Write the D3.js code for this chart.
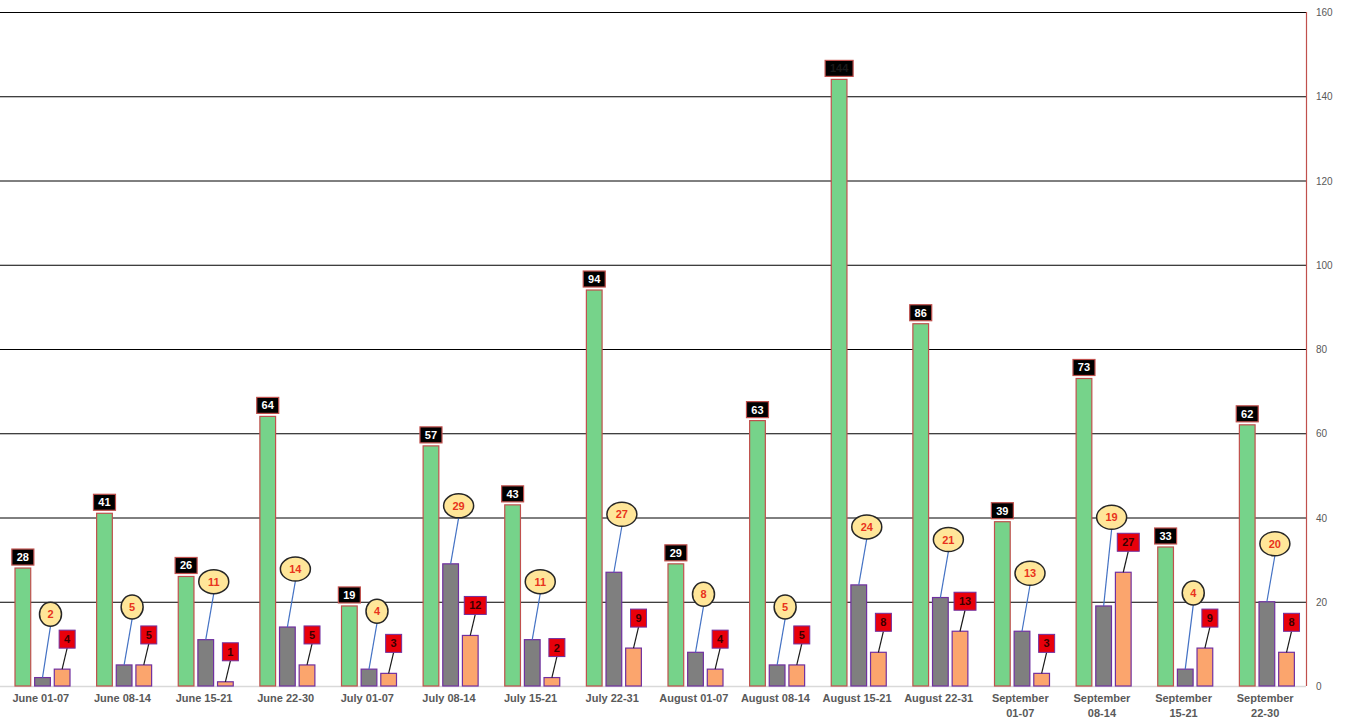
<!DOCTYPE html>
<html>
<head>
<meta charset="utf-8">
<script src="https://cdn.jsdelivr.net/npm/d3@7"></script>
<style>
  body { margin: 0; background: #fff; }
  text { font-family: "Liberation Sans", Arial, sans-serif; }
</style>
</head>
<body>
<script>
// Weekly periods, June to September
const periods = [
  "June 01-07", "June 08-14", "June 15-21", "June 22-30",
  "July 01-07", "July 08-14", "July 15-21", "July 22-31",
  "August 01-07", "August 08-14", "August 15-21", "August 22-31",
  "September 01-07", "September 08-14", "September 15-21", "September 22-30"
];
const greenValues = [28, 41, 26, 64, 19, 57, 43, 94, 29, 63, 144, 86, 39, 73, 33, 62];
const grayValues = [2, 5, 11, 14, 4, 29, 11, 27, 8, 5, 24, 21, 13, 19, 4, 20];
const orangeValues = [4, 5, 1, 5, 3, 12, 2, 9, 4, 5, 8, 13, 3, 27, 9, 8];
const yTicks = [0, 20, 40, 60, 80, 100, 120, 140, 160];

const width = 1348;
const height = 722;
const margin = { top: 12, right: 42, bottom: 36, left: 0 };

const svg = d3.select("body")
  .append("svg")
  .attr("width", width)
  .attr("height", height);

const x = d3.scaleBand()
  .domain(periods)
  .range([margin.left, width - margin.right])
  .padding(0);

// bars inside each group
const xSub = d3.scaleBand()
  .domain([0, 1, 2])
  .range([15, 70])
  .paddingInner(0.2);

const y = d3.scaleLinear()
  .domain([0, 160])
  .range([height - margin.bottom, margin.top]);

// gridlines
svg.append("g")
  .selectAll("line")
  .data(yTicks)
  .join("line")
  .attr("x1", margin.left)
  .attr("x2", width - margin.right)
  .attr("y1", d => y(d) + 0.5)
  .attr("y2", d => y(d) + 0.5)
  .attr("stroke", d => d === 0 ? "#d9d9d9" : "#000")
  .attr("stroke-width", d => d === 0 ? 1.5 : 1);

// right axis
const axisX = width - margin.right;
svg.append("line")
  .attr("x1", axisX + 0.5).attr("x2", axisX + 0.5)
  .attr("y1", y(160)).attr("y2", y(0))
  .attr("stroke", "#c0504d")
  .attr("stroke-width", 1.2);

svg.append("g")
  .selectAll("text")
  .data(yTicks)
  .join("text")
  .attr("x", axisX + 10)
  .attr("y", d => y(d) + 4)
  .attr("font-size", 10)
  .attr("fill", "#595959")
  .text(d => d);

const series = [
  { values: greenValues, fill: "#76d38a", stroke: "#c0504d" },
  { values: grayValues, fill: "#7f7f7f", stroke: "#7030a0" },
  { values: orangeValues, fill: "#fba56d", stroke: "#7030a0" }
];

series.forEach((s, si) => {
  svg.append("g")
    .selectAll("rect")
    .data(s.values)
    .join("rect")
    .attr("x", (d, i) => x(periods[i]) + xSub(si))
    .attr("y", d => y(d))
    .attr("width", xSub.bandwidth())
    .attr("height", d => y(0) - y(d))
    .attr("fill", s.fill)
    .attr("stroke", s.stroke)
    .attr("stroke-width", 1.2);
});

const barCenter = (i, si) => x(periods[i]) + xSub(si) + xSub.bandwidth() / 2;

// green labels: black boxes above bars
const gLab = svg.append("g")
  .selectAll("g")
  .data(greenValues)
  .join("g")
  .attr("transform", (d, i) => `translate(${barCenter(i, 0)},${y(d) - 11})`);
gLab.append("rect")
  .attr("x", d => d >= 100 ? -14 : -11)
  .attr("y", -8)
  .attr("width", d => d >= 100 ? 28 : 22)
  .attr("height", 16)
  .attr("fill", "#000")
  .attr("stroke", "#c0504d")
  .attr("stroke-width", 1.2);
gLab.append("text")
  .attr("text-anchor", "middle")
  .attr("y", 4)
  .attr("font-size", 11)
  .attr("font-weight", "bold")
  .attr("fill", d => d >= 100 ? "#1a1a1a" : "#fff")
  .text(d => d);

// label anchor points (orange boxes first, gray ellipses kept clear of them)
const orDx = 5, orDy = -30;
const grayDx = 8, grayDy = -58;
const orPos = orangeValues.map((d, i) => ({
  x: barCenter(i, 2) + orDx,
  y: y(d) + orDy,
  hw: d >= 10 ? 11 : 8
}));
const grPos = grayValues.map((d, i) => {
  const p = { x: barCenter(i, 1) + grayDx, y: y(d) + grayDy, rx: d >= 10 ? 15 : 11 };
  const o = orPos[i];
  if (Math.abs(p.x - o.x) < p.rx + o.hw + 2 && p.y + 12 > o.y - 11) {
    p.y = o.y - 9 - 16;
  }
  return p;
});

// gray labels: yellow ellipses with blue leaders
const grLab = svg.append("g")
  .selectAll("g")
  .data(grayValues)
  .join("g");
grLab.append("line")
  .attr("x1", (d, i) => barCenter(i, 1))
  .attr("y1", d => y(d))
  .attr("x2", (d, i) => grPos[i].x)
  .attr("y2", (d, i) => grPos[i].y + 12)
  .attr("stroke", "#4472c4")
  .attr("stroke-width", 1.2);
grLab.append("ellipse")
  .attr("cx", (d, i) => grPos[i].x)
  .attr("cy", (d, i) => grPos[i].y)
  .attr("rx", (d, i) => grPos[i].rx)
  .attr("ry", 12)
  .attr("fill", "#ffe699")
  .attr("stroke", "#262626")
  .attr("stroke-width", 1.5);
grLab.append("text")
  .attr("x", (d, i) => grPos[i].x)
  .attr("y", (d, i) => grPos[i].y + 4)
  .attr("text-anchor", "middle")
  .attr("font-size", 11)
  .attr("font-weight", "bold")
  .attr("fill", "#e8331c")
  .text(d => d);

// orange labels: red boxes with black leaders
const oLab = svg.append("g")
  .selectAll("g")
  .data(orangeValues)
  .join("g");
oLab.append("line")
  .attr("x1", (d, i) => barCenter(i, 2))
  .attr("y1", d => y(d))
  .attr("x2", (d, i) => orPos[i].x)
  .attr("y2", (d, i) => orPos[i].y + 9)
  .attr("stroke", "#1a1a1a")
  .attr("stroke-width", 1.2);
oLab.append("rect")
  .attr("x", (d, i) => orPos[i].x - orPos[i].hw)
  .attr("y", (d, i) => orPos[i].y - 9)
  .attr("width", (d, i) => orPos[i].hw * 2)
  .attr("height", 18)
  .attr("fill", "#e8000b")
  .attr("stroke", "#7030a0")
  .attr("stroke-width", 1);
oLab.append("text")
  .attr("x", (d, i) => orPos[i].x)
  .attr("y", (d, i) => orPos[i].y + 4)
  .attr("text-anchor", "middle")
  .attr("font-size", 11)
  .attr("font-weight", "bold")
  .attr("fill", "#3a0000")
  .text(d => d);

// x axis labels, September ones wrap on two lines
const xl = svg.append("g")
  .selectAll("text")
  .data(periods)
  .join("text")
  .attr("x", d => x(d) + x.bandwidth() / 2)
  .attr("y", y(0) + 16)
  .attr("text-anchor", "middle")
  .attr("font-size", 11)
  .attr("font-weight", "bold")
  .attr("fill", "#595959");
xl.each(function(d) {
  const t = d3.select(this);
  if (d.startsWith("September")) {
    const parts = d.split(" ");
    t.append("tspan").attr("x", x(d) + x.bandwidth() / 2).text(parts[0]);
    t.append("tspan").attr("x", x(d) + x.bandwidth() / 2).attr("dy", 15).text(parts[1]);
  } else {
    t.text(d);
  }
});
</script>
</body>
</html>
